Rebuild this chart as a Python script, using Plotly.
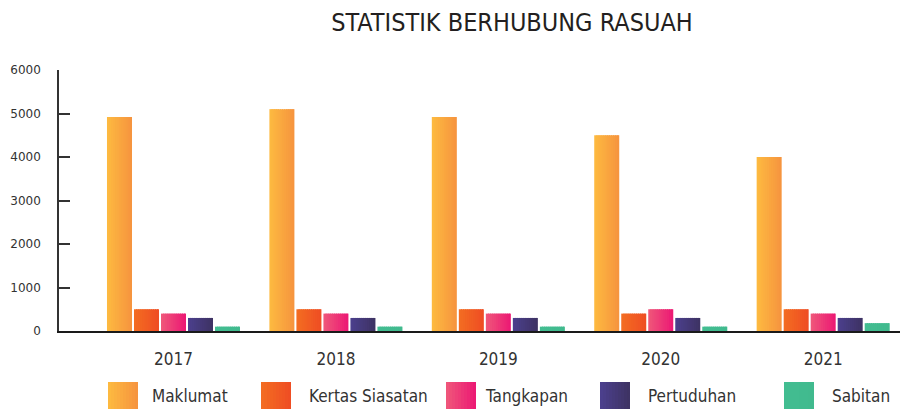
import plotly.graph_objects as go

# data
years = ['2017', '2018', '2019', '2020', '2021']
series_names = ['Maklumat', 'Kertas Siasatan', 'Tangkapan', 'Pertuduhan', 'Sabitan']
maklumat = [4920, 5100, 4920, 4500, 4000]
kertas_siasatan = [500, 500, 500, 400, 500]
tangkapan = [400, 400, 400, 500, 400]
pertuduhan = [300, 300, 300, 300, 300]
sabitan = [100, 100, 100, 100, 180]
y_ticks = [0, 1000, 2000, 3000, 4000, 5000, 6000]

# left -> right gradient colours for each series
gradients = [
    ('#FDB940', '#F6953F'),
    ('#F36C22', '#EF4E23'),
    ('#EF557A', '#EC1A74'),
    ('#4B3F8C', '#3E3364'),
    ('#42BD91', '#41BA8E'),
]

CONDENSED = 'Liberation Sans Narrow, DejaVu Sans Condensed, Roboto, sans-serif'
N_STRIPS = 12
BAR_W = 0.154
SLOT = 0.1663


def mix(c1, c2, t):
    a = [int(c1[i:i + 2], 16) for i in (1, 3, 5)]
    b = [int(c2[i:i + 2], 16) for i in (1, 3, 5)]
    return 'rgb({},{},{})'.format(*[round(a[i] + (b[i] - a[i]) * t) for i in range(3)])


# plot area in pixels: x 59..900, y 331 (0) .. 70 (6000)
def px2x(px):
    return (px - 59) / 841


def px2y(py):
    return (331 - py) / 261


fig = go.Figure()

values = [maklumat, kertas_siasatan, tangkapan, pertuduhan, sabitan]
group_w = 4 * SLOT + BAR_W
for j, vals in enumerate(values):
    c1, c2 = gradients[j]
    for k in range(N_STRIPS):
        sw = BAR_W / N_STRIPS
        fig.add_trace(go.Bar(
            x=years,
            y=vals,
            offset=-group_w / 2 + j * SLOT + k * sw,
            width=sw * (1.6 if k < N_STRIPS - 1 else 1),
            marker=dict(color=mix(c1, c2, k / (N_STRIPS - 1)), line=dict(width=0)),
            name=series_names[j],
            showlegend=False,
            hovertemplate=series_names[j] + ' %{x}: %{y}<extra></extra>',
        ))

# custom legend with large gradient swatches
swatch_left = [108, 261, 446, 600, 784]
text_left = [150, 307, 483, 646, 830]
shapes = []
annotations = []
for j, name in enumerate(series_names):
    c1, c2 = gradients[j]
    n = 10
    for k in range(n):
        x0 = swatch_left[j] + 30 * k / n
        x1 = swatch_left[j] + 30 * (k + 1) / n + (0.6 if k < n - 1 else 0)
        shapes.append(dict(
            type='rect', xref='paper', yref='paper',
            x0=px2x(x0), x1=px2x(x1), y0=px2y(409), y1=px2y(382),
            fillcolor=mix(c1, c2, k / (n - 1)), line=dict(width=0), layer='above',
        ))
    annotations.append(dict(
        x=px2x(text_left[j]), y=px2y(396), xref='paper', yref='paper',
        text=name, showarrow=False, xanchor='left', yanchor='middle',
        font=dict(family=CONDENSED, size=17, color='#333333'),
    ))

fig.update_layout(
    barmode='overlay',
    width=900,
    height=409,
    paper_bgcolor='white',
    plot_bgcolor='white',
    margin=dict(l=59, r=0, t=70, b=78),
    title=dict(
        text='STATISTIK BERHUBUNG RASUAH',
        x=512 / 900, xref='container', xanchor='center',
        y=1 - 22 / 409, yref='container', yanchor='middle',
        font=dict(family=CONDENSED, size=25, color='#231F20'),
    ),
    shapes=shapes,
    annotations=annotations,
)

fig.update_xaxes(
    type='category',
    range=[-0.705, 4.473],
    showline=True,
    linecolor='#1a1a1a',
    linewidth=2,
    ticks='',
    showgrid=False,
    zeroline=False,
    ticklabelstandoff=12,
    tickfont=dict(family=CONDENSED, size=17, color='#333333'),
)

fig.update_yaxes(
    range=[0, 6000],
    tickvals=y_ticks,
    showline=True,
    linecolor='#333333',
    linewidth=1.5,
    ticks='inside',
    ticklen=11,
    tickwidth=2,
    tickcolor='#333333',
    showgrid=False,
    zeroline=False,
    ticklabelstandoff=14,
    tickfont=dict(family='DejaVu Sans', size=12, color='#333333'),
)

# drop the default page margin so the figure sits at the window's corner
fig.write_html(
    'out.html',
    config={'displayModeBar': False},
    post_script="document.body.style.margin='0';",
)
